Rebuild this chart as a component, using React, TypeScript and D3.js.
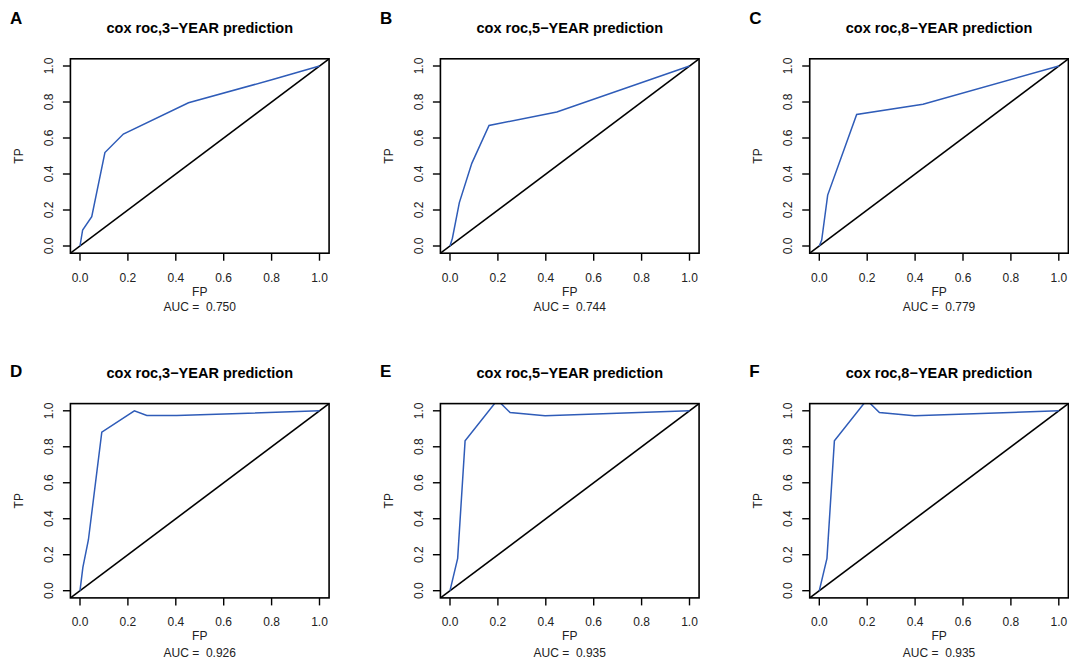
import React from "react";
import * as d3 from "d3";

const W = 1069;
const H = 661;

const panelLetters = ["A", "B", "C", "D", "E", "F"];
const panelTitles = [
  "cox roc,3−YEAR prediction",
  "cox roc,5−YEAR prediction",
  "cox roc,8−YEAR prediction",
  "cox roc,3−YEAR prediction",
  "cox roc,5−YEAR prediction",
  "cox roc,8−YEAR prediction",
];
const aucValues = ["0.750", "0.744", "0.779", "0.926", "0.935", "0.935"];

const fpA = [0, 0.011, 0.049, 0.104, 0.181, 0.453, 0.808, 1];
const tpA = [0, 0.089, 0.163, 0.519, 0.622, 0.796, 0.926, 1];
const fpB = [0, 0.01, 0.039, 0.091, 0.163, 0.446, 1];
const tpB = [0, 0.043, 0.241, 0.459, 0.67, 0.744, 1];
const fpC = [0, 0.01, 0.035, 0.156, 0.433, 1];
const tpC = [0, 0.033, 0.283, 0.731, 0.787, 1];
const fpD = [0, 0.012, 0.035, 0.091, 0.227, 0.279, 0.404, 1];
const tpD = [0, 0.13, 0.282, 0.881, 1.0, 0.974, 0.974, 1];
const fpE = [0, 0.032, 0.063, 0.198, 0.251, 0.397, 1];
const tpE = [0, 0.18, 0.833, 1.06, 0.99, 0.972, 1];
const fpF = [0, 0.032, 0.063, 0.198, 0.251, 0.397, 1];
const tpF = [0, 0.18, 0.833, 1.06, 0.99, 0.972, 1];

const fpSeries = [fpA, fpB, fpC, fpD, fpE, fpF];
const tpSeries = [tpA, tpB, tpC, tpD, tpE, tpF];

const tickValues = [0, 0.2, 0.4, 0.6, 0.8, 1.0];
const tickLabels = ["0.0", "0.2", "0.4", "0.6", "0.8", "1.0"];

// layout
const colX0 = [80, 450, 819.3];
const unitW = 239.5;
const rowY0 = [246, 590.7];
const rowY1 = [66, 410.8];
const rowTitleY = [32.5, 377.5];
const rowLetterY = [24, 377];
const rowTickLabelY = [281.7, 626];
const rowFPY = [296, 640];
const rowAUCY = [310.5, 657];

const FONT = "'Liberation Sans', Arial, Helvetica, sans-serif";
const BLUE = "#2f5cb8";

function Panel({ i }: { i: number }) {
  const col = i % 3;
  const row = Math.floor(i / 3);
  const x = d3
    .scaleLinear()
    .domain([0, 1])
    .range([colX0[col], colX0[col] + unitW]);
  const y = d3.scaleLinear().domain([0, 1]).range([rowY0[row], rowY1[row]]);
  const xl = x(-0.04);
  const xr = x(1.04);
  const yt = y(1.04);
  const yb = y(-0.04);
  const cx = (xl + xr) / 2;
  const cy = (yt + yb) / 2;
  const fp = fpSeries[i];
  const tp = tpSeries[i];
  const pts: [number, number][] = fp.map((v, k) => [v, tp[k]]);
  const line = d3
    .line<[number, number]>()
    .x((d) => x(d[0]))
    .y((d) => y(d[1]));
  const clipId = `clip-${i}`;
  return (
    <g>
      <defs>
        <clipPath id={clipId}>
          <rect x={xl} y={yt} width={xr - xl} height={yb - yt} />
        </clipPath>
      </defs>
      <text
        x={colX0[col] - 70}
        y={rowLetterY[row]}
        fontSize={17}
        fontWeight="bold"
        fontFamily={FONT}
        fill="#000"
      >
        {panelLetters[i]}
      </text>
      <text
        x={cx}
        y={rowTitleY[row]}
        fontSize={14.5}
        fontWeight="bold"
        fontFamily={FONT}
        textAnchor="middle"
        fill="#000"
      >
        {panelTitles[i]}
      </text>
      <g clipPath={`url(#${clipId})`}>
        <line
          x1={x(-0.04)}
          y1={y(-0.04)}
          x2={x(1.04)}
          y2={y(1.04)}
          stroke="#000"
          strokeWidth={1.6}
        />
        <path d={line(pts) || ""} fill="none" stroke={BLUE} strokeWidth={1.5} />
      </g>
      <rect
        x={xl}
        y={yt}
        width={xr - xl}
        height={yb - yt}
        fill="none"
        stroke="#000"
        strokeWidth={1.6}
      />
      {tickValues.map((t, k) => (
        <g key={`xt${k}`}>
          <line x1={x(t)} x2={x(t)} y1={yb} y2={yb + 7.5} stroke="#000" strokeWidth={1.4} />
          <text
            x={x(t)}
            y={rowTickLabelY[row]}
            fontSize={12}
            fontFamily={FONT}
            textAnchor="middle"
            fill="#222"
          >
            {tickLabels[k]}
          </text>
        </g>
      ))}
      {tickValues.map((t, k) => (
        <g key={`yt${k}`}>
          <line x1={xl - 7.5} x2={xl} y1={y(t)} y2={y(t)} stroke="#000" strokeWidth={1.4} />
          <text
            transform={`translate(${colX0[col] - 27.3},${y(t)}) rotate(-90)`}
            fontSize={12}
            fontFamily={FONT}
            textAnchor="middle"
            fill="#222"
          >
            {tickLabels[k]}
          </text>
        </g>
      ))}
      <text
        x={cx}
        y={rowFPY[row]}
        fontSize={12}
        fontFamily={FONT}
        textAnchor="middle"
        fill="#222"
      >
        FP
      </text>
      <text
        x={cx}
        y={rowAUCY[row]}
        fontSize={12}
        fontFamily={FONT}
        textAnchor="middle"
        fill="#222"
        style={{ whiteSpace: "pre" }}
      >
        {`AUC =  ${aucValues[i]}`}
      </text>
      <text
        transform={`translate(${colX0[col] - 57.3},${cy}) rotate(-90)`}
        fontSize={12}
        fontFamily={FONT}
        textAnchor="middle"
        fill="#222"
      >
        TP
      </text>
    </g>
  );
}

export default function App() {
  return (
    <svg
      width={W}
      height={H}
      viewBox={`0 0 ${W} ${H}`}
      style={{ position: "absolute", left: 0, top: 0, background: "#fff" }}
    >
      <rect x={0} y={0} width={W} height={H} fill="#fff" />
      {panelLetters.map((_, i) => (
        <Panel key={i} i={i} />
      ))}
    </svg>
  );
}
